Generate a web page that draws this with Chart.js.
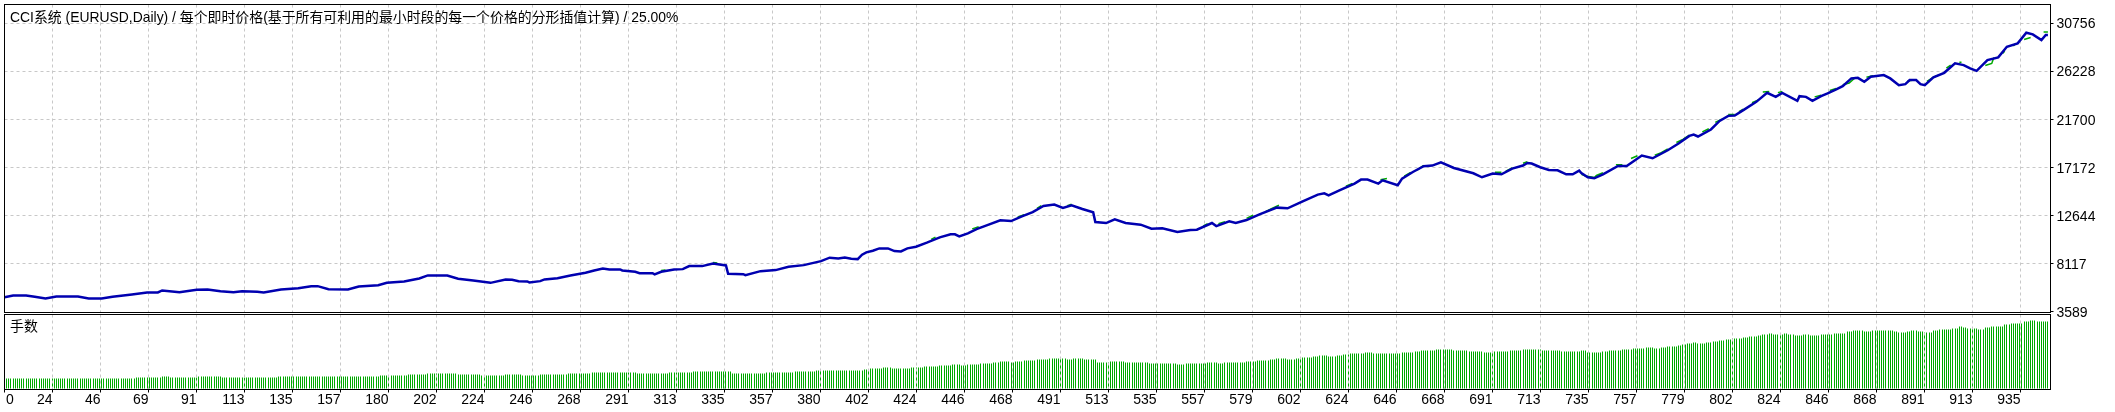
<!DOCTYPE html>
<html>
<head>
<meta charset="utf-8">
<title>CCI</title>
<script src="https://cdn.jsdelivr.net/npm/chart.js@4"></script>
<style>
    html, body { margin: 0; padding: 0; background: #fff; overflow: hidden; }
    #wrap { position: relative; width: 2115px; height: 412px; }
    canvas { position: absolute; left: 0; }
    #balanceChart { top: 0; }
    #lotsChart { top: 314px; }
    .label { position: absolute; color: #000; white-space: nowrap; font-size: 13.9px; line-height: 16px; font-family: "Liberation Sans", "Noto Sans CJK SC", sans-serif; }
    #title { left: 10px; top: 9px; }
    #lotsTitle { left: 10px; top: 318px; }
</style>
</head>
<body>
<div id="wrap">
    <canvas id="balanceChart" width="2115" height="330"></canvas>
    <canvas id="lotsChart" width="2115" height="98"></canvas>
    <div class="label" id="title">CCI系统 (EURUSD,Daily) / 每个即时价格(基于所有可利用的最小时段的每一个价格的分形插值计算) / 25.00%</div>
    <div class="label" id="lotsTitle">手数</div>
</div>
<script>
// Tick labels of both axes
const xTickLabels = ['0', '24', '46', '69', '91', '113', '135', '157', '180', '202', '224', '246', '268', '291', '313',
    '335', '357', '380', '402', '424', '446', '468', '491', '513', '535', '557', '579', '602', '624', '646', '668',
    '691', '713', '735', '757', '779', '802', '824', '846', '868', '891', '913', '935'];
const yTickValues = [3589, 8117, 12644, 17172, 21700, 26228, 30756];

// Balance curve: trade number and account value
const balanceTrades = [0, 4, 10, 14, 19, 24, 34, 39, 45, 50, 59, 66, 71, 73, 81, 89, 94, 100, 106, 110, 117, 120, 128, 136, 142, 145,
    150, 159, 164, 173, 177, 185, 192, 196, 205, 210, 217, 225, 232, 235, 238, 242, 243, 248, 250, 256, 262, 269, 273, 277, 280,
    285, 286, 292, 294, 300, 301, 304, 310, 314, 317, 323, 328, 331, 334, 335, 342, 343, 350, 357, 363, 370, 378, 382, 386, 389,
    392, 395, 397, 399, 402, 405, 409, 412, 415, 418, 422, 427, 433, 438, 440, 442, 446, 450, 455, 461, 466, 471, 476, 481, 486,
    490, 494, 499, 504, 505, 510, 514, 519, 526, 531, 536, 543, 549, 552, 559, 561, 567, 570, 575, 581, 589, 594, 601, 608, 611,
    613, 618, 625, 628, 631, 636, 638, 645, 647, 652, 657, 661, 665, 671, 680, 684, 689, 693, 698, 703, 705, 707, 711, 715, 719,
    723, 726, 729, 730, 733, 736, 740, 747, 751, 758, 763, 770, 775, 780, 782, 784, 790, 794, 798, 801, 805, 811, 816, 820, 823,
    830, 831, 834, 837, 841, 844, 848, 851, 855, 858, 861, 864, 870, 873, 877, 880, 882, 885, 887, 889, 893, 898, 903, 907, 910,
    913, 918, 923, 927, 932, 936, 939, 943, 945, 946];
const balanceValues = [4937, 5098, 5098, 4975, 4815, 5003, 5003, 4815, 4815, 4975, 5192, 5381, 5381, 5569, 5409, 5635, 5664, 5503, 5409, 5503, 5447, 5381, 5664, 5786, 5975, 5975,
    5692, 5664, 5947, 6069, 6296, 6418, 6701, 6984, 6984, 6673, 6513, 6286, 6607, 6579, 6447, 6418, 6324, 6447, 6607, 6729, 6984, 7239, 7456, 7645, 7550,
    7550, 7456, 7333, 7201, 7201, 7079, 7333, 7550, 7578, 7862, 7862, 8116, 8022, 7928, 7144, 7107, 7012, 7390, 7485, 7805, 7956, 8333, 8654, 8588, 8682,
    8559, 8522, 8937, 9154, 9313, 9531, 9531, 9277, 9248, 9531, 9692, 10069, 10569, 10852, 10852, 10663, 10946, 11352, 11729, 12172, 12106, 12550, 12955, 13521, 13654,
    13333, 13587, 13238, 12927, 12012, 11918, 12267, 11918, 11767, 11389, 11418, 11069, 11267, 11295, 11918, 11635, 12078, 11918, 12201, 12738, 13370, 13304, 13965, 14597, 14719,
    14531, 15002, 15634, 16011, 16011, 15634, 15946, 15474, 16106, 16729, 17266, 17332, 17644, 17106, 16606, 16229, 16577, 16512, 17049, 17332, 17577, 17521, 17172, 16917, 16889,
    16512, 16512, 16860, 16634, 16229, 16134, 16512, 17294, 17294, 18275, 18021, 18775, 19407, 20124, 20256, 20068, 20728, 21539, 22011, 22049, 22549, 23332, 24181, 23803, 24181,
    23426, 23869, 23803, 23426, 23869, 24124, 24501, 24813, 25539, 25595, 25218, 25690, 25850, 25539, 24907, 25001, 25379, 25379, 25001, 24907, 25633, 26067, 26954, 26794, 26482,
    26256, 27265, 27520, 28520, 28840, 29840, 29689, 29152, 29623, 29623];

// Equity only shows where it leaves the balance curve; null breaks the line
const equityTrades = [304, 306, 307, 328, 330, 331, 429, 431, 432, 448, 451, 452, 469, 472, 473, 478, 480, 481, 492, 494, 495, 555, 557, 558,
    562, 565, 566, 575, 578, 579, 584, 587, 590, 591, 621, 624, 625, 637, 640, 641, 648, 651, 652, 654, 657, 658, 690, 693, 694, 695, 698, 699,
    703, 705, 706, 730, 732, 736, 737, 740, 741, 746, 749, 750, 753, 756, 757, 764, 767, 770, 771, 774, 777, 780, 781, 786, 789, 790, 792, 795, 796,
    798, 801, 802, 803, 805, 806, 809, 812, 813, 814, 817, 818, 821, 823, 824, 838, 841, 842, 845, 848, 849, 851, 854, 857, 858, 862, 865, 866,
    881, 884, 885, 890, 893, 896, 897, 899, 901, 902, 905, 906, 914, 917, 920, 921, 922, 925, 926, 929, 930, 931, 934, 935, 938, 939, 944, 946];
const equityValues = [7450, 7500, null, 8200, 8150, null, 10380, 10600, null, 11370, 11570, null, 12480, 12700, null, 13300, 13550, null, 13560, 13680, null, 11650, 11850, null,
    11860, 12050, null, 12360, 12650, null, 13020, 13330, 13600, null, 15390, 15650, null, 16000, 16120, null, 16330, 16700, null, 16900, 17350, null, 16700, 16700, null, 16800, 17100, null,
    17550, 17700, null, 16500, 16350, 16200, 16400, 16650, null, 17400, 17400, null, 18000, 18250, null, 18300, 18550, 18900, null, 19500, 19800, 20200, null, 20500, 20800, null, 21400, 21700, null,
    22150, 22150, null, 22400, 22650, null, 23250, 23500, null, 24250, 24300, null, 24200, 24300, null, 23800, 23950, null, 24400, 24600, null, 24950, 25100, 25650, null, 25650, 25800, null,
    25300, 25400, null, 25250, 25650, 25900, null, 26500, 26800, null, 27050, 27050, null, 26750, 26950, 27500, null, 27900, 28100, null, 28600, 28800, null, 29200, 29400, null, 29900, 29900, null, 29700, 29700];

// Lot size: the trade each level starts from and the level itself
const lotStarts = [1, 61, 73, 77, 90, 101, 127, 174, 187, 196, 210, 221, 232, 240, 248, 261, 272, 293, 308, 319, 337, 353, 366, 376, 398, 401, 407, 411,
    420, 426, 433, 439, 443, 446, 452, 458, 461, 466, 468, 472, 478, 484, 492, 495, 500, 506, 512, 519, 530, 543, 547, 557, 562, 565, 575, 580, 586, 589,
    594, 598, 601, 606, 609, 613, 617, 620, 623, 630, 634, 647, 653, 656, 663, 671, 678, 685, 689, 697, 703, 712, 721, 730, 733, 740, 743, 749, 754, 760,
    764, 767, 770, 775, 777, 779, 782, 784, 788, 791, 794, 797, 800, 805, 808, 812, 814, 817, 819, 824, 826, 829, 833, 836, 841, 847, 853, 856, 861, 865,
    875, 877, 881, 883, 886, 889, 893, 896, 902, 905, 907, 909, 914, 917, 920, 926, 929, 935, 938, 941];
const lotLevels = [1.0, 1.1, 1.2, 1.1, 1.2, 1.1, 1.2, 1.3, 1.4, 1.5, 1.4, 1.3, 1.4, 1.3, 1.4, 1.5, 1.6, 1.5, 1.6, 1.7, 1.5, 1.6, 1.7, 1.8, 1.9, 2.0, 2.1, 2.0,
    2.1, 2.2, 2.3, 2.4, 2.3, 2.4, 2.5, 2.6, 2.7, 2.6, 2.7, 2.8, 2.9, 3.0, 2.9, 3.0, 2.9, 2.6, 2.7, 2.6, 2.5, 2.4, 2.5, 2.6, 2.5, 2.6, 2.7, 2.8, 2.9, 3.0,
    2.9, 3.0, 3.1, 3.2, 3.3, 3.2, 3.3, 3.4, 3.5, 3.6, 3.5, 3.6, 3.7, 3.8, 3.9, 3.8, 3.7, 3.6, 3.7, 3.8, 3.9, 3.8, 3.7, 3.8, 3.6, 3.7, 3.8, 3.9, 4.0, 4.1,
    4.0, 4.1, 4.2, 4.3, 4.4, 4.5, 4.6, 4.5, 4.6, 4.7, 4.8, 4.9, 5.0, 5.1, 5.2, 5.3, 5.4, 5.5, 5.4, 5.5, 5.4, 5.3, 5.4, 5.3, 5.4, 5.5, 5.7, 5.8, 5.7, 5.8,
    5.7, 5.6, 5.7, 5.8, 5.7, 5.6, 5.8, 5.9, 6.0, 6.2, 6.1, 6.0, 5.9, 6.1, 6.2, 6.4, 6.5, 6.7, 6.8, 6.7];
const lastTrade = 946;

// Both panes share this x range, grid lines fall every 200/9 trades
const xMax = 947.2;
const xTickStep = 200 / 9;
const gridColor = '#c8c8c8';
const gridDash = [3, 3];
const tickFont = { family: '"Liberation Sans", sans-serif', size: 14 };

// Keeps the pane outlined like the terminal does
const framePlugin = {
    id: 'frame',
    afterDraw(chart) {
        let area = chart.chartArea;
        let ctx = chart.ctx;
        ctx.save();
        ctx.strokeStyle = '#000';
        ctx.lineWidth = 1;
        ctx.strokeRect(area.left, area.top, area.width, area.height);
        ctx.restore();
    }
};

// Snaps the thin bars to whole pixels so they stay crisp
const snapBarsPlugin = {
    id: 'snapBars',
    afterDatasetsUpdate(chart) {
        chart.getDatasetMeta(0).data.forEach(bar => {
            bar.x = Math.floor(bar.x) + 0.5;
        });
    }
};

// The first label starts at the axis origin, the others end at their tick
const firstLabelPlugin = {
    id: 'firstLabel',
    afterDraw(chart) {
        let ctx = chart.ctx;
        ctx.save();
        ctx.fillStyle = '#000';
        ctx.font = '14px ' + tickFont.family;
        ctx.textAlign = 'left';
        ctx.textBaseline = 'middle';
        ctx.fillText(xTickLabels[0], chart.chartArea.left + 1.5, chart.chartArea.bottom + 11);
        ctx.restore();
    }
};

function sharedXAxis(showLabels) {
    return {
        type: 'linear',
        min: 0,
        max: xMax,
        offset: false,
        border: { display: false, dash: gridDash },
        afterBuildTicks: axis => {
            axis.ticks = xTickLabels.map((label, i) => ({ value: i * xTickStep }));
        },
        afterFit: axis => {
            axis.height = showLabels ? 22.5 : 0;
            axis.paddingLeft = 0;
            axis.paddingRight = 0;
        },
        grid: {
            offset: false,
            z: showLabels ? 1 : -1,
            color: gridColor,
            tickColor: '#000',
            tickLength: 3,
            drawTicks: showLabels
        },
        ticks: {
            display: showLabels,
            autoSkip: false,
            maxRotation: 0,
            minRotation: 0,
            align: 'end',
            padding: -1,
            color: '#000',
            font: tickFont,
            callback: (value, index) => index === 0 ? '' : xTickLabels[index]
        }
    };
}

function createBalanceChart() {
    let balance = balanceTrades.map((t, i) => ({ x: t, y: balanceValues[i] }));
    let equity = equityTrades.map((t, i) => ({ x: t, y: equityValues[i] }));

    new Chart(document.getElementById('balanceChart').getContext('2d'), {
        type: 'line',
        data: {
            datasets: [
                { label: 'Balance', data: balance, borderColor: '#0000b0', borderWidth: 2.5, pointRadius: 0, tension: 0, order: 1 },
                { label: 'Equity', data: equity, borderColor: '#00aa00', borderWidth: 1.5, pointRadius: 0, tension: 0, spanGaps: false, order: 2 }
            ]
        },
        options: {
            responsive: false,
            animation: false,
            layout: { padding: { left: 4.5, top: 4.5, bottom: 17.5, right: 0 } },
            plugins: { legend: { display: false }, tooltip: { enabled: false } },
            scales: {
                x: sharedXAxis(false),
                y: {
                    position: 'right',
                    min: 3494,
                    max: 32500,
                    border: { display: false, dash: gridDash },
                    afterBuildTicks: axis => {
                        axis.ticks = yTickValues.map(v => ({ value: v }));
                    },
                    afterFit: axis => {
                        axis.width = 64.5;
                        axis.paddingTop = 0;
                        axis.paddingBottom = 0;
                    },
                    grid: {
                        color: ctx => ctx.index === 0 ? 'transparent' : gridColor,
                        tickColor: '#000',
                        tickLength: 3
                    },
                    ticks: {
                        padding: 3,
                        labelOffset: 1.5,
                        color: '#000',
                        font: tickFont,
                        callback: value => String(value)
                    }
                }
            }
        },
        plugins: [framePlugin]
    });
}

function createLotsChart() {
    let bars = [];
    for (let s = 0; s < lotStarts.length; s++) {
        let end = s + 1 < lotStarts.length ? lotStarts[s + 1] : lastTrade + 1;
        for (let t = lotStarts[s]; t < end; t++) {
            bars.push({ x: t, y: lotLevels[s] });
        }
    }

    new Chart(document.getElementById('lotsChart').getContext('2d'), {
        type: 'bar',
        data: {
            datasets: [{ label: '手数', data: bars, backgroundColor: '#00aa00', barThickness: 1, borderWidth: 0, inflateAmount: 0 }]
        },
        options: {
            responsive: false,
            animation: false,
            layout: { padding: { left: 4.5, top: 0.5, bottom: 0, right: 64.5 } },
            plugins: { legend: { display: false }, tooltip: { enabled: false } },
            scales: {
                x: sharedXAxis(true),
                y: { display: false, min: -0.1, max: 7.4 }
            }
        },
        plugins: [snapBarsPlugin, framePlugin, firstLabelPlugin]
    });
}

createBalanceChart();
createLotsChart();
</script>
</body>
</html>
